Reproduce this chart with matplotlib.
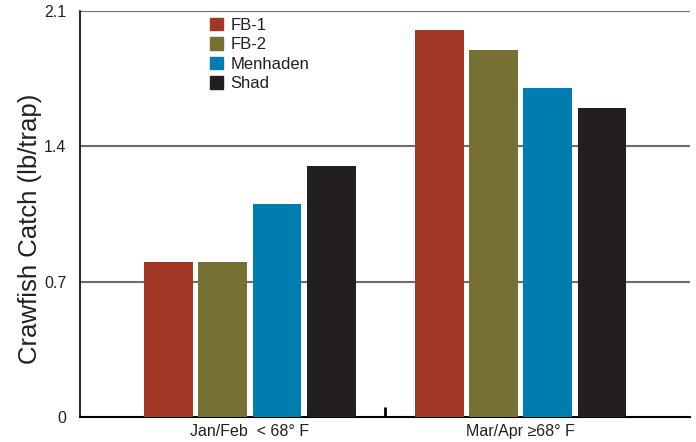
import numpy as np
import matplotlib
matplotlib.use("Agg")
import matplotlib.pyplot as plt
from matplotlib.patches import Patch

plt.rcParams['font.family'] = ['Liberation Sans', 'DejaVu Sans']

periods = ['Jan/Feb  < 68\u00b0 F', 'Mar/Apr \u226568\u00b0 F']
series = ['FB-1', 'FB-2', 'Menhaden', 'Shad']
fb1 = [0.80, 2.00]
fb2 = [0.80, 1.90]
menhaden = [1.10, 1.70]
shad = [1.30, 1.60]
colors = ['#a33726', '#767035', '#007db0', '#231f20']

fig = plt.figure(figsize=(6.96, 4.42), dpi=100)
ax = fig.add_axes([0.115, 0.057, 0.876, 0.918])

x = np.arange(len(periods))
pitch = 0.2
width = 0.18
for i, (vals, col) in enumerate(zip([fb1, fb2, menhaden, shad], colors)):
    ax.bar(x + (i - 1.5) * pitch, vals, width, color=col, zorder=3)

ax.set_ylim(0, 2.1)
ax.set_xlim(-0.627, 1.624)
ax.set_yticks([0, 0.7, 1.4, 2.1])
ax.set_yticklabels(['0', '0.7', '1.4', '2.1'])
for y in [0.7, 1.4, 2.1]:
    ax.axhline(y, color='#6d6d6d', lw=1.5, zorder=1)

ax.set_xticks(x)
ax.set_xticklabels(periods)
ax.set_xticks([0.5], minor=True)
ax.tick_params(axis='x', which='major', length=0, pad=5, labelsize=11.5, colors='#231f20')
ax.tick_params(axis='x', which='minor', direction='in', length=7, width=2, color='black')
ax.tick_params(axis='y', length=0, pad=10, labelsize=11.5, labelcolor='#231f20')

for s in ['top', 'right']:
    ax.spines[s].set_visible(False)
ax.spines['left'].set_linewidth(1.2)
ax.spines['bottom'].set_linewidth(1.5)

ax.set_ylabel('Crawfish Catch (lb/trap)', fontsize=18.5, color='#231f20')
ax.yaxis.set_label_coords(-0.062, 0.463)

handles = [Patch(color=c, label=s) for s, c in zip(series, colors)]
leg = ax.legend(handles=handles, loc='upper left', bbox_to_anchor=(0.203, 1.0),
                frameon=False, fontsize=12, handlelength=0.75, handleheight=0.75,
                handletextpad=0.45, labelspacing=0.27, borderaxespad=0.0)
for t in leg.get_texts():
    t.set_color('#231f20')

fig.savefig('out.png', dpi=100)
